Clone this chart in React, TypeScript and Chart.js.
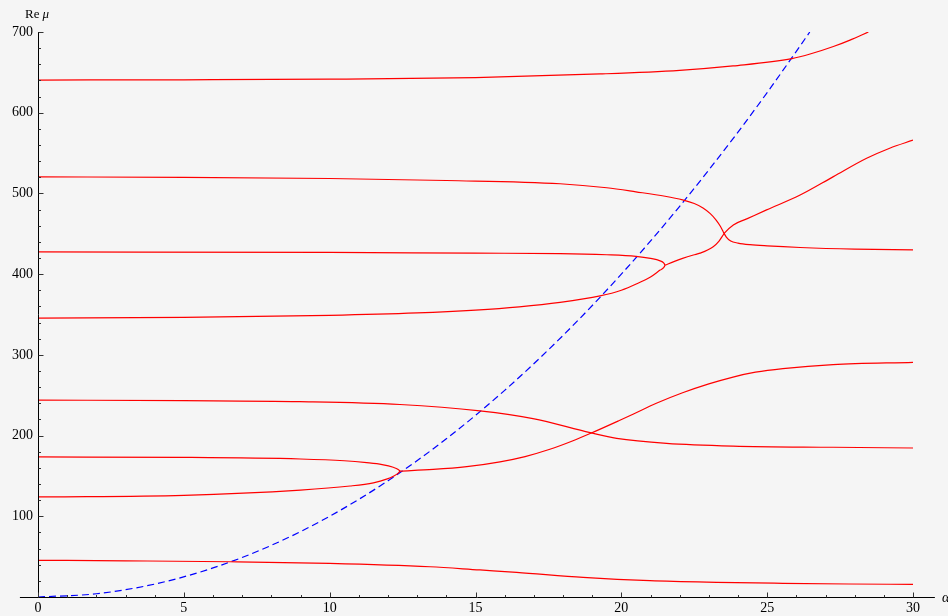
import React, { useEffect, useRef } from "react";
import { Chart, registerables } from "chart.js";

Chart.register(...registerables);

// ---- tick labels ----
const xTicks = [0, 5, 10, 15, 20, 25, 30];
const yTicks = [100, 200, 300, 400, 500, 600, 700];

// ---- red eigenvalue branches (alpha, Re mu) ----
const topAlpha = [0, 5, 10, 15, 19.27, 22, 23.83, 25.85, 26.5, 27.27, 27.84, 28.47];
const topMu = [640.5, 640.8, 641.5, 643.5, 648, 652.5, 658, 667, 673, 682, 690, 700];

const b520Alpha = [0, 5, 10, 14, 17.9, 19.5, 20.5, 21.5, 22.1, 22.5, 22.8, 23.05, 23.25, 23.4, 23.5, 23.6, 23.75, 24.0, 24.41, 25, 26.13, 28, 30];
const b520Mu = [520.5, 520, 518.5, 516, 512, 507, 502, 496.5, 492, 487.5, 482, 475, 467, 459, 452, 446, 441, 438.5, 436.5, 435, 433, 431, 430];

// 427 branch running into the turning point
const upTopAlpha = [0, 10, 15, 17.9, 19.5, 20.5, 21.0, 21.33, 21.45, 21.5];
const upTopMu = [427.5, 427, 426, 425.5, 424, 422, 419.5, 416.5, 414, 411];
// 345 branch running into the same turning point
const upBotAlpha = [0, 5, 10, 13, 15, 16.5, 17.9, 19.27, 20.0, 20.53, 21.0, 21.33, 21.45, 21.5];
const upBotMu = [345.5, 346.5, 349, 352, 355.5, 359.5, 365, 373, 380, 388, 396.5, 405, 408, 411];

const riseUpAlpha = [21.5, 21.8, 22.1, 22.47, 22.7, 23.15, 23.35, 23.55, 23.84, 24.3, 24.98, 26.13, 27.27, 28.41, 29.2, 30];
const riseUpMu = [411, 415.5, 419.5, 423.7, 426, 434, 441, 451.4, 461, 468.5, 479.6, 498, 520.8, 543.5, 556, 566];

const b244Alpha = [0, 5, 8.98, 12.41, 15.15, 16.97, 18.93, 19.84, 21.55, 23.83, 27.26, 30];
const b244Mu = [244, 243.2, 242, 238.5, 230.5, 221, 203.6, 196.6, 190.4, 187, 185.5, 184.6];

// 174 branch running into the turning point
const lowTopAlpha = [0, 5, 9, 10.5, 11.27, 11.8, 12.18, 12.35, 12.41];
const lowTopMu = [173.5, 173, 171, 168.8, 166.4, 164, 160.7, 158, 156];
// 124 branch running into the same turning point
const lowBotAlpha = [0, 5, 9, 10.7, 11.5, 11.95, 12.2, 12.35, 12.41];
const lowBotMu = [124, 126, 132.5, 137.5, 141.5, 146, 150, 153.5, 156];

const riseLowAlpha = [12.41, 13.55, 14.7, 15.84, 16.7, 17.55, 18.3, 18.93, 19.95, 20.4, 21.2, 22.1, 23.0, 23.83, 24.6, 25.54, 27.26, 30];
const riseLowMu = [156, 158, 161.5, 167.5, 174, 183, 193, 202.5, 219, 226.5, 240, 253, 264, 272.5, 278.5, 283, 288, 290.8];

const bottomAlpha = [0, 3, 6.58, 10, 13.44, 15.15, 16.41, 18.69, 20.98, 23.27, 25.54, 27.8, 30];
const bottomMu = [45.5, 44.8, 43.7, 41.7, 37.5, 33.5, 30.6, 24.4, 20.2, 18.2, 17, 16.1, 15.7];

// ---- blue dashed curve ----
const blueAlpha = [0, 2, 4, 6, 8, 10, 12, 14, 16, 18, 20, 22, 24, 25, 26, 26.46];
const blueMu = [0, 4, 16, 36, 64, 100, 144, 196, 256, 324, 400, 484, 576, 625, 676, 700];

const pts = (xs: number[], ys: number[]) => xs.map((x, i) => ({ x, y: ys[i] }));

const RED = "#ff0000";
const BG = "#f5f5f5";
const SERIF = "'Liberation Serif', 'Times New Roman', serif";

const red = (xs: number[], ys: number[]) => ({
  data: pts(xs, ys),
  borderColor: RED,
  borderWidth: 1.2,
  pointRadius: 0,
  cubicInterpolationMode: "monotone" as const,
  fill: false,
});

const axesPlugin = {
  id: "mmaAxes",
  beforeDraw(chart: any) {
    const { ctx, width, height } = chart;
    ctx.save();
    ctx.fillStyle = BG;
    ctx.fillRect(0, 0, width, height);
    ctx.restore();
  },
  afterDatasetsDraw(chart: any) {
    const { ctx } = chart;
    const xs = chart.scales.x;
    const ys = chart.scales.y;
    const x0 = Math.round(xs.getPixelForValue(0)) + 0.5;
    const y0 = Math.round(ys.getPixelForValue(0)) + 0.5;
    ctx.save();
    ctx.strokeStyle = "#000";
    ctx.lineWidth = 1;
    ctx.beginPath();
    ctx.moveTo(xs.getPixelForValue(-0.62), y0);
    ctx.lineTo(xs.getPixelForValue(30.75), y0);
    ctx.moveTo(x0, y0);
    ctx.lineTo(x0, Math.round(ys.getPixelForValue(700)));
    ctx.stroke();

    ctx.strokeStyle = "#333";
    ctx.beginPath();
    for (let v = 0; v <= 30; v++) {
      const px = Math.round(xs.getPixelForValue(v)) + 0.5;
      const len = v % 5 === 0 ? 5 : 2.5;
      ctx.moveTo(px, y0);
      ctx.lineTo(px, y0 - len);
    }
    for (let v = 20; v <= 700; v += 20) {
      const py = Math.round(ys.getPixelForValue(v)) + 0.5;
      const len = v % 100 === 0 ? 5 : 2.5;
      ctx.moveTo(x0, py);
      ctx.lineTo(x0 + len, py);
    }
    ctx.stroke();

    // axis labels
    ctx.fillStyle = "#000";
    ctx.textBaseline = "alphabetic";
    ctx.textAlign = "left";
    ctx.font = `13px ${SERIF}`;
    ctx.fillText("Re", 25, 18);
    const w = ctx.measureText("Re").width;
    ctx.font = `italic 13px ${SERIF}`;
    ctx.fillText("μ", 25 + w + 3, 18);
    ctx.font = `italic 14px ${SERIF}`;
    ctx.fillText("α", 942, 602);
    ctx.restore();
  },
};

export default function App() {
  const ref = useRef<HTMLCanvasElement | null>(null);

  useEffect(() => {
    document.body.style.margin = "0";
    document.body.style.background = BG;
    const canvas = ref.current;
    if (!canvas) return;
    const chart = new Chart(canvas, {
      type: "line",
      data: {
        datasets: [
          red(topAlpha, topMu),
          red(b520Alpha, b520Mu),
          red(upTopAlpha, upTopMu),
          red(upBotAlpha, upBotMu),
          red(riseUpAlpha, riseUpMu),
          red(b244Alpha, b244Mu),
          red(lowTopAlpha, lowTopMu),
          red(lowBotAlpha, lowBotMu),
          red(riseLowAlpha, riseLowMu),
          red(bottomAlpha, bottomMu),
          {
            data: pts(blueAlpha, blueMu),
            borderColor: "#0000ff",
            borderWidth: 1.2,
            borderDash: [7, 4],
            pointRadius: 0,
            cubicInterpolationMode: "monotone" as const,
            fill: false,
          },
        ] as any,
      },
      options: {
        responsive: false,
        devicePixelRatio: 1,
        animation: false,
        layout: { padding: { top: 32, right: 35, left: 0, bottom: 0 } },
        plugins: { legend: { display: false }, tooltip: { enabled: false } },
        scales: {
          x: {
            type: "linear",
            position: "bottom",
            min: 0,
            max: 30,
            grid: { display: false, drawTicks: false },
            border: { display: false },
            afterBuildTicks: (s: any) => {
              s.ticks = xTicks.map((v) => ({ value: v }));
            },
            afterFit: (s: any) => {
              s.height = 19;
            },
            ticks: {
              autoSkip: false,
              maxRotation: 0,
              padding: 3,
              color: "#000",
              font: { family: SERIF, size: 14 },
            },
          },
          y: {
            type: "linear",
            position: "left",
            min: 0,
            max: 700,
            grid: { display: false, drawTicks: false },
            border: { display: false },
            afterBuildTicks: (s: any) => {
              s.ticks = yTicks.map((v) => ({ value: v }));
            },
            afterFit: (s: any) => {
              s.width = 38;
            },
            ticks: {
              autoSkip: false,
              padding: 5,
              color: "#000",
              font: { family: SERIF, size: 14 },
            },
          },
        },
      },
      plugins: [axesPlugin],
    });
    return () => chart.destroy();
  }, []);

  return (
    <div style={{ width: 948, height: 616 }}>
      <canvas ref={ref} width={948} height={616} style={{ display: "block" }} />
    </div>
  );
}
